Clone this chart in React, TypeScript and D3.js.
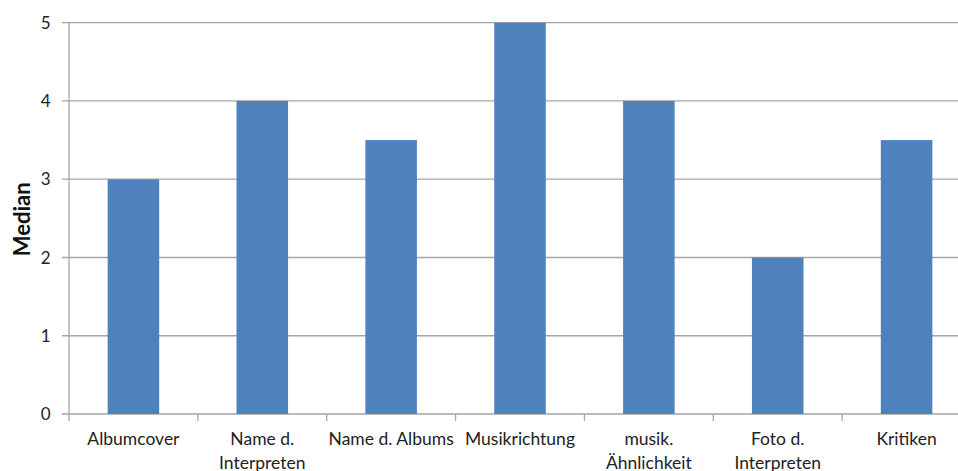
import React from "react";
import * as d3 from "d3";

const categories: string[][] = [
  ["Albumcover"],
  ["Name d.", "Interpreten"],
  ["Name d. Albums"],
  ["Musikrichtung"],
  ["musik.", "Ähnlichkeit"],
  ["Foto d.", "Interpreten"],
  ["Kritiken"],
];
const values: number[] = [3, 4, 3.5, 5, 4, 2, 3.5];
const yTicks: number[] = [0, 1, 2, 3, 4, 5];
const yLabel = "Median";

const W = 958;
const H = 471;
const left = 69;
const right = 971;
const top = 22.7;
const bottom = 414;

export default function App() {
  const ids = categories.map((_, i) => String(i));
  const x = d3.scaleBand<string>().domain(ids).range([left, right]).paddingInner(0.6).paddingOuter(0.3);
  const xb = d3.scaleBand<string>().domain(ids).range([left, right]);
  const y = d3.scaleLinear().domain([0, 5]).range([bottom, top]);
  const font = "Lato, 'Open Sans', sans-serif";
  const grid = "#a6a6a6";
  return (
    <svg width={W} height={H} style={{ position: "absolute", left: 0, top: 0 }} fontFamily={font}>
      <rect width={W} height={H} fill="#fff" />
      {yTicks.map((t) => (
        <g key={t}>
          <line x1={left - 7} x2={right} y1={y(t)} y2={y(t)} stroke={grid} strokeWidth={1.3} />
          <text x={50.5} y={y(t)} dy="0.36em" textAnchor="end" fontSize={17} fill="#222">
            {t}
          </text>
        </g>
      ))}
      <line x1={left} x2={left} y1={top} y2={bottom} stroke={grid} strokeWidth={1.3} />
      {ids.map((id, i) => (
        <rect key={id} x={x(id)} y={y(values[i])} width={x.bandwidth()} height={y(0) - y(values[i])} fill="#4f81bd" />
      ))}
      {ids.map((id) => (
        <line key={"t" + id} x1={(xb(id) as number) + xb.bandwidth()} x2={(xb(id) as number) + xb.bandwidth()} y1={bottom} y2={bottom + 7} stroke={grid} strokeWidth={1.3} />
      ))}
      <line x1={left} x2={left} y1={bottom} y2={bottom + 7} stroke={grid} strokeWidth={1.3} />
      {ids.map((id, i) => (
        <text key={"l" + id} x={(xb(id) as number) + xb.bandwidth() / 2} y={445} textAnchor="middle" fontSize={17.5} fill="#222">
          {categories[i].map((line, j) => (
            <tspan key={j} x={(xb(id) as number) + xb.bandwidth() / 2} dy={j === 0 ? 0 : 24}>
              {line}
            </tspan>
          ))}
        </text>
      ))}
      <text transform={`translate(30,${(top + bottom) / 2 + 1}) rotate(-90)`} textAnchor="middle" fontSize={22} fontWeight="bold" fill="#111">
        {yLabel}
      </text>
    </svg>
  );
}
